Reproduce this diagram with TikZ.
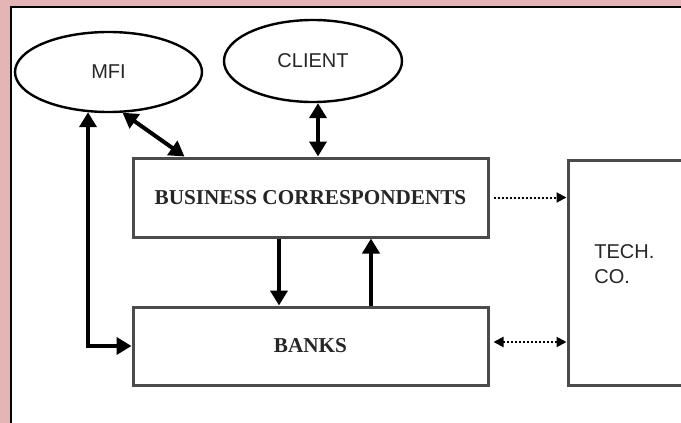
\documentclass[tikz,border=0pt]{standalone}
\usepackage{fontspec}
\setmainfont{Liberation Serif}
\setsansfont{Liberation Sans}
\usetikzlibrary{arrows.meta,shapes.geometric}
\definecolor{pinkframe}{RGB}{228,181,181}
\definecolor{boxline}{RGB}{75,75,75}

\begin{document}
\begin{tikzpicture}[x=0.5pt, y=-0.5pt,
      every node/.append style={inner sep=0pt, text=black!85},
      oneway/.style={line width=2pt, -{Triangle[length=7.5pt,width=8.5pt]}},
      twoway/.style={line width=2pt, {Triangle[length=7.5pt,width=8.5pt]}-{Triangle[length=7.5pt,width=8.5pt]}},
      dotlink/.style={densely dotted, line width=1pt, shorten <=2pt}]
    \tikzstyle{party} = [draw=black, line width=1.2pt, ellipse,
      font=\sffamily\fontsize{10pt}{12pt}\selectfont]
    \tikzstyle{unit} = [draw=boxline, line width=1.5pt, rectangle, fill=white,
      minimum width=177.5pt, minimum height=39.5pt,
      font=\rmfamily\bfseries\fontsize{10.6pt}{13pt}\selectfont]
    \useasboundingbox (0,0) rectangle (681,423);
    % frame
    \fill[pinkframe] (0,0) rectangle (681,423);
    \fill[white] (11,7) rectangle (681,423);
    \draw[line width=1pt] (11,423) -- (11,7) -- (681,7);
    % parties
    \node[party, minimum width=93.5pt, minimum height=40pt] (mfi) at (108.5,72) {MFI};
    \node[party, minimum width=89pt, minimum height=41pt] (client) at (313,61) {CLIENT};
    % boxes
    \node[unit] (bc) at (310.5,197.5) {BUSINESS CORRESPONDENTS};
    \node[unit, minimum height=39pt] (banks) at (310.5,346) {BANKS};
    \node[unit, minimum width=66pt, minimum height=112.5pt] (tech) at (634,272.5) {};
    \node[anchor=west, align=left, font=\sffamily\fontsize{10pt}{12.5pt}\selectfont]
      (techtext) at (594,264) {TECH.\\CO.};
    % links
    \draw[twoway] (mfi.-71) -- ([xshift=26.5pt]bc.north west);
    \draw[twoway] ([xshift=2.5pt]client.south) -- ([xshift=2.5pt]client.south |- bc.north);
    \draw[oneway] ([xshift=-15.75pt]bc.south) -- ([xshift=-15.75pt]banks.north);
    \draw[oneway] ([xshift=30.25pt]banks.north) -- ([xshift=30.25pt]bc.south);
    \draw[twoway] (banks.west) -| (mfi.-117.7);
    \draw[dotlink, -{Triangle[length=5pt,width=5pt]}] (bc.east) -- (bc.east -| tech.west);
    \draw[dotlink, shorten >=0pt, {Triangle[length=5pt,width=5pt]}-{Triangle[length=5pt,width=5pt]}]
      ([yshift=2pt]banks.east) -- ([yshift=2pt]banks.east -| tech.west);
\end{tikzpicture}
\end{document}
